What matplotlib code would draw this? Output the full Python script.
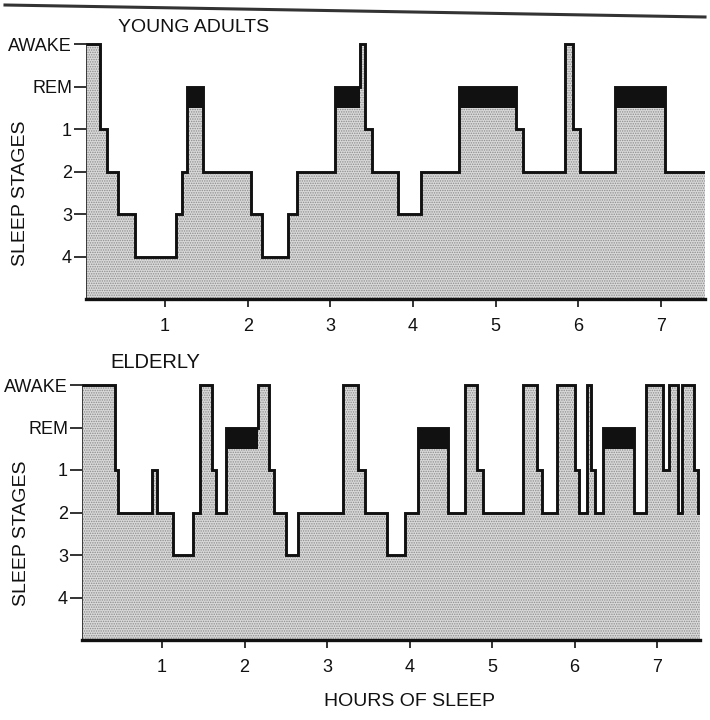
import matplotlib
matplotlib.use('Agg')
import matplotlib.pyplot as plt
from matplotlib.lines import Line2D

plt.rcParams['font.family'] = ['Liberation Sans', 'DejaVu Sans']
plt.rcParams['hatch.linewidth'] = 0.7

# stage names, top to bottom of the axis
stage_labels = ['AWAKE', 'REM', '1', '2', '3', '4']
stage_level = {'AWAKE': 6, 'REM': 5, '1': 4, '2': 3, '3': 2, '4': 1}

# young adults: start hour of each segment and its stage
young_starts = [0.045, 0.216, 0.30, 0.433, 0.637, 1.133, 1.20, 1.266, 1.46,
                2.04, 2.17, 2.49, 2.60, 3.05, 3.36, 3.42, 3.50, 3.82, 4.10,
                4.56, 5.24, 5.33, 5.84, 5.93, 6.02, 6.44, 7.05]
young_stages = ['AWAKE', '1', '2', '3', '4', '3', '2', 'REM', '2',
                '3', '4', '3', '2', 'REM', 'AWAKE', '1', '2', '3', '2',
                'REM', '1', '2', 'AWAKE', '1', '2', 'REM', '2']
young_end = 7.53

# elderly
elder_starts = [0.03, 0.43, 0.47, 0.88, 0.94, 1.13, 1.37, 1.46, 1.61, 1.65,
                1.78, 2.16, 2.30, 2.36, 2.50, 2.65, 3.19, 3.37, 3.46, 3.73,
                3.94, 4.10, 4.46, 4.67, 4.82, 4.89, 5.37, 5.55, 5.61, 5.79,
                6.00, 6.05, 6.15, 6.20, 6.25, 6.35, 6.72, 6.86, 7.07, 7.14,
                7.25, 7.30, 7.45, 7.49]
elder_stages = ['AWAKE', '1', '2', '1', '2', '3', '2', 'AWAKE', '1', '2',
                'REM', 'AWAKE', '1', '2', '3', '2', 'AWAKE', '1', '2', '3',
                '2', 'REM', '2', 'AWAKE', '1', '2', 'AWAKE', '1', '2', 'AWAKE',
                '1', '2', 'AWAKE', '1', '2', 'REM', '2', 'AWAKE', '1', 'AWAKE',
                '2', 'AWAKE', '1', '2']
elder_end = 7.52

hour_ticks = [1, 2, 3, 4, 5, 6, 7]

W, H = 710, 720
fig = plt.figure(figsize=(W / 100, H / 100), dpi=100)


def px_axes(left, right, top, bottom):
    return fig.add_axes([left / W, 1 - bottom / H, (right - left) / W, (bottom - top) / H])


def draw_hypnogram(ax, starts, stages, end, xlim):
    levels = [stage_level[s] for s in stages]
    x = starts + [end]
    y = levels + [levels[-1]]
    ax.fill_between(x, 0, y, step='post', facecolor='#d9d9d9',
                    hatch='.......', edgecolor='#8c8c8c', linewidth=0)
    # REM periods drawn as black blocks under the REM line
    for i, s in enumerate(stages):
        if s == 'REM':
            ax.bar(x[i], 0.5, width=x[i + 1] - x[i], bottom=4.5,
                   align='edge', color='#111111', linewidth=0)
    ax.step(x, y, where='post', color='#111111', lw=2.1, solid_joinstyle='miter')
    ax.plot([x[0], x[0]], [0, y[0]], color='#222222', lw=1.2)
    ax.set_xlim(*xlim)
    ax.set_ylim(0, 6.2)
    ax.set_yticks([stage_level[s] for s in stage_labels])
    ax.set_yticklabels(stage_labels)
    ax.set_xticks(hour_ticks)
    ax.set_xticklabels([str(h) for h in hour_ticks])
    for side in ('top', 'right', 'left'):
        ax.spines[side].set_visible(False)
    ax.spines['bottom'].set_linewidth(2.4)
    ax.spines['bottom'].set_color('#111111')
    ax.tick_params(axis='y', direction='out', length=9, width=1.2,
                   labelsize=13, pad=1, colors='#111111')
    ax.tick_params(axis='x', direction='out', length=6, width=1.2,
                   labelsize=13, pad=8, colors='#111111')
    ax.set_facecolor('none')


ax1 = px_axes(86, 705, 35.5, 299)
draw_hypnogram(ax1, young_starts, young_stages, young_end, (0.045, 7.53))

ax2 = px_axes(82, 700, 376.5, 640)
draw_hypnogram(ax2, elder_starts, elder_stages, elder_end, (0.03, 7.52))

# titles and axis labels
fig.text(118 / W, 1 - 27 / H, 'YOUNG ADULTS', ha='left', va='center', fontsize=14, color='#111111')
fig.text(110 / W, 1 - 362 / H, 'ELDERLY', ha='left', va='center', fontsize=14.5, color='#111111')
fig.text(21 / W, 1 - 193 / H, 'SLEEP STAGES', rotation=90, ha='center', va='center', fontsize=14, color='#111111')
fig.text(22 / W, 1 - 533 / H, 'SLEEP STAGES', rotation=90, ha='center', va='center', fontsize=14, color='#111111')
fig.text(410 / W, 1 - 702 / H, 'HOURS OF SLEEP', ha='center', va='center', fontsize=14, color='#111111')

# ruled line across the top of the page
fig.add_artist(Line2D([5 / W, 705 / W], [1 - 5 / H, 1 - 17 / H], transform=fig.transFigure,
                      color='#333333', lw=2.2))

fig.savefig('out.png', dpi=100, facecolor='white')
